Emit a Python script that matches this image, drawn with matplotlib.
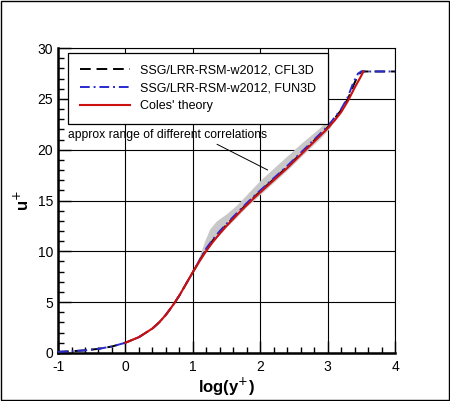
import matplotlib
matplotlib.use("Agg")
import matplotlib.pyplot as plt
from matplotlib.patches import Rectangle

plt.rcParams["font.family"] = ["Liberation Sans", "DejaVu Sans"]
plt.rcParams["axes.unicode_minus"] = False

# ---------------------------------------------------------------------------
# Data
# ---------------------------------------------------------------------------
log_yplus_cfl3d = [-1.0, -0.8, -0.6, -0.4, -0.2, 0.0, 0.2, 0.4, 0.5, 0.6, 0.7,
                   0.8, 0.9, 1.0, 1.1, 1.2, 1.3, 1.4, 1.5, 1.6, 1.8, 2.0, 2.2,
                   2.4, 2.6, 2.8, 3.0, 3.2, 3.3, 3.4, 3.45, 3.5, 3.55, 3.7,
                   3.85, 4.0]
uplus_cfl3d = [0.10, 0.16, 0.25, 0.40, 0.63, 1.0, 1.55, 2.4, 3.0, 3.75, 4.65,
               5.65, 6.8, 7.95, 9.1, 10.2, 11.1, 11.9, 12.6, 13.3, 14.65, 15.9,
               17.1, 18.3, 19.6, 20.9, 22.2, 23.9, 25.0, 26.6, 27.3, 27.7,
               27.7, 27.7, 27.7, 27.7]

log_yplus_fun3d = [-1.0, -0.8, -0.6, -0.4, -0.2, 0.0, 0.2, 0.4, 0.5, 0.6, 0.7,
                   0.8, 0.9, 1.0, 1.1, 1.2, 1.3, 1.4, 1.5, 1.6, 1.8, 2.0, 2.2,
                   2.4, 2.6, 2.8, 3.0, 3.2, 3.3, 3.38, 3.45, 3.5, 3.55, 3.7,
                   3.85, 4.0]
uplus_fun3d = [0.10, 0.16, 0.25, 0.40, 0.63, 1.0, 1.55, 2.4, 3.0, 3.75, 4.65,
               5.65, 6.8, 7.95, 9.15, 10.3, 11.2, 12.0, 12.7, 13.4, 14.75, 16.0,
               17.2, 18.4, 19.7, 21.0, 22.3, 24.0, 25.2, 26.6, 27.5, 27.7,
               27.7, 27.7, 27.7, 27.7]

log_yplus_coles = [0.0, 0.2, 0.4, 0.5, 0.6, 0.7, 0.8, 0.9, 1.0, 1.1, 1.2,
                   1.3, 1.4, 1.5, 1.6, 1.7, 1.8, 1.9, 2.0, 2.2, 2.4, 2.6, 2.8,
                   3.0, 3.1, 3.2, 3.3, 3.4, 3.5, 3.53]
uplus_coles = [1.0, 1.55, 2.4, 3.0, 3.75, 4.65, 5.65, 6.8, 7.95, 9.05, 10.05,
               10.95, 11.75, 12.5, 13.2, 13.9, 14.55, 15.2, 15.8, 17.0, 18.2,
               19.5, 20.8, 22.1, 22.85, 23.7, 24.8, 26.1, 27.3, 27.7]

# approximate range of different correlations (gray band)
log_yplus_band = [1.02, 1.1, 1.18, 1.25, 1.35, 1.5, 1.64, 1.8, 2.0, 2.2, 2.4,
                  2.6, 2.87, 3.0, 3.05]
band_upper = [8.2, 9.6, 11.1, 12.2, 13.0, 13.7, 14.5, 15.6, 17.0, 18.2, 19.4,
              20.6, 22.1, 22.9, 22.5]
band_lower = [8.1, 8.9, 9.8, 10.5, 11.3, 12.4, 13.3, 14.4, 15.6, 16.8, 18.0,
              19.3, 21.0, 21.9, 22.3]

# ---------------------------------------------------------------------------
# Plot
# ---------------------------------------------------------------------------
fig = plt.figure(figsize=(4.5, 4.01), dpi=100)
ax = fig.add_axes([0.129, 0.12, 0.749, 0.76])

ax.fill_between(log_yplus_band, band_lower, band_upper,
                color="#c8c8c8", linewidth=0, zorder=2)
ax.plot(log_yplus_cfl3d, uplus_cfl3d, color="black", lw=1.4,
        linestyle=(0, (5.5, 3)), label="SSG/LRR-RSM-w2012, CFL3D", zorder=3)
ax.plot(log_yplus_fun3d, uplus_fun3d, color="#2a2ad0", lw=1.4,
        linestyle=(0, (5, 2, 1, 2)), label="SSG/LRR-RSM-w2012, FUN3D", zorder=4)
ax.plot(log_yplus_coles, uplus_coles, color="#cc1010", lw=1.5,
        label="Coles' theory", zorder=5)

ax.annotate("approx range of different correlations",
            xy=(2.11, 18.0), xytext=(-0.85, 21.4),
            fontsize=8.7, va="center", ha="left",
            arrowprops=dict(arrowstyle="-", color="black", lw=0.7,
                            shrinkA=0, shrinkB=0,
                            relpos=(0.72, 0.0)))

ax.set_xlim(-1, 4)
ax.set_ylim(0, 30)
ax.set_xticks([-1, 0, 1, 2, 3, 4])
ax.set_yticks([0, 5, 10, 15, 20, 25, 30])
ax.set_xticks([i * 0.2 - 1 for i in range(26)], minor=True)
ax.set_yticks(range(31), minor=True)
ax.tick_params(which="both", direction="in", top=False, right=False,
               labelsize=10, width=1.0)
ax.tick_params(which="major", length=9)
ax.tick_params(which="minor", length=4.5)
ax.tick_params(axis="x", which="major", pad=5)
ax.grid(True, which="major", color="black", linewidth=0.8)
ax.set_axisbelow(True)

for side in ("left", "bottom"):
    ax.spines[side].set_linewidth(1.8)
for side in ("top", "right"):
    ax.spines[side].set_linewidth(0.8)

ax.set_xlabel("log(y$^{+}$)", fontsize=12, fontweight="bold", labelpad=1)
ax.set_ylabel("u$^{+}$", fontsize=12, fontweight="bold", labelpad=4)

leg = ax.legend(loc="upper left", bbox_to_anchor=(0.03, 0.984),
                borderaxespad=0, fontsize=9, handlelength=4.0,
                handletextpad=0.8, labelspacing=0.45, borderpad=0.95,
                fancybox=False, framealpha=1, edgecolor="black")
leg.get_frame().set_linewidth(0.9)

fig.patches.append(Rectangle((0.002, 0.002), 0.996, 0.996, fill=False,
                             edgecolor="black", linewidth=1.0,
                             transform=fig.transFigure, figure=fig))

plt.savefig("out.png", dpi=100)
plt.close()
